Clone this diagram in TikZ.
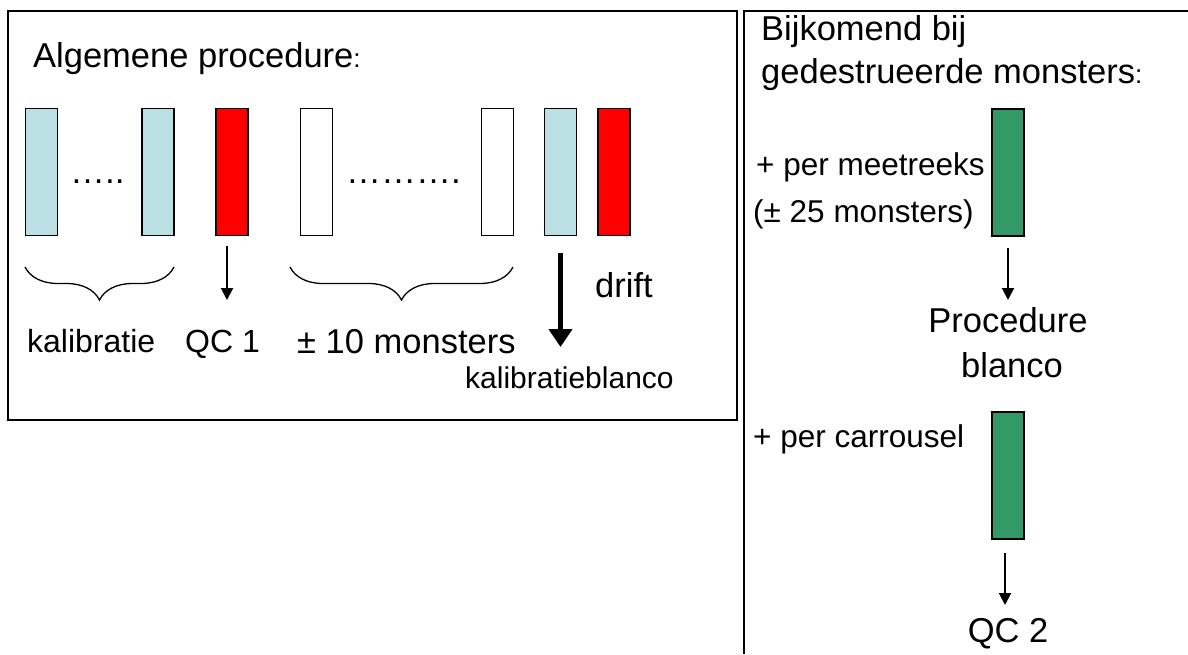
\documentclass[tikz,border=0pt]{standalone}
\usepackage{fontspec}
\setmainfont{Liberation Sans}
\usetikzlibrary{arrows.meta,decorations.pathreplacing}
\definecolor{lb}{RGB}{187,224,227}
\definecolor{rd}{RGB}{255,0,0}
\definecolor{gr}{RGB}{51,153,102}
\begin{document}
\begin{tikzpicture}[x=1pt,y=-1pt,
  tube/.style={draw, line width=1.3pt, minimum width=32pt, minimum height=127pt, inner sep=0pt},
  lbl/.style={inner sep=0pt, font=\fontsize{32}{36}\selectfont},
  mid/.style={inner sep=0pt, font=\fontsize{31.5}{36}\selectfont},
  small/.style={inner sep=0pt, font=\fontsize{30}{34}\selectfont},
  head/.style={inner sep=0pt, font=\fontsize{34.5}{40}\selectfont},
  dots/.style={inner sep=0pt, font=\fontsize{35}{40}\selectfont},
  arr/.style={line width=2pt, -{Triangle[width=12pt,length=12pt]}},
  bigarr/.style={line width=4.5pt, -{Triangle[width=23pt,length=18pt]}},
  brc/.style={line width=1.3pt, decorate, decoration={brace, amplitude=33pt, mirror}},
  frame/.style={line width=2pt}]
\useasboundingbox (0,0) rectangle (1188,654);
\fill[white] (0,0) rectangle (1188,654);
% frames
\draw[frame] (8,11) rectangle (737,420);
\draw[line width=1.6pt] (1188,11) -- (744,11) -- (744,654);
% left panel
\node[head, anchor=base west] (t1) at (33,67) {Algemene procedure{\fontsize{26}{30}\selectfont:}};
\node[tube, fill=lb] (c1) at (41.5,172) {};
\node[tube, fill=lb] (c2) at (158,172) {};
\node[tube, fill=rd] (r1) at (232,172) {};
\node[tube, fill=white] (w1) at (316.5,172) {};
\node[tube, fill=white] (w2) at (497.5,172) {};
\node[tube, fill=lb] (c3) at (560.5,172) {};
\node[tube, fill=rd] (r2) at (614,172) {};
\node[dots, anchor=base west] (d1) at (70,183) {…..};
\node[dots, anchor=base west] (d2) at (346,183) {……….};
\draw[brc] (25,267) -- (174,267);
\draw[brc] (290,267) -- (513,267);
\coordinate (qb) at (227,300);
\draw[arr, shorten <=10pt] (r1.south -| qb) -- (qb);
\coordinate (db) at (560.5,347);
\draw[bigarr, shorten <=17pt] (c3.south) -- (db);
\node[lbl, anchor=base west] (k1) at (27,352) {kalibratie};
\node[lbl, anchor=base west] (q1) at (185,352) {QC 1};
\node[head, anchor=base west] (m1) at (297,353) {± 10 monsters};
\node[head, anchor=base west] (dr) at (595,297) {drift};
\node[small, anchor=base west] (kb) at (465,388) {kalibratieblanco};
% right panel
\node[head, anchor=base west] (t2) at (761,40) {Bijkomend bij};
\node[head, anchor=base west] (t3) at (761,83) {gedestrueerde monsters{\fontsize{26}{30}\selectfont:}};
\node[mid, anchor=base west] (p1) at (756,175) {+ per meetreeks};
\node[mid, anchor=base west] (p2) at (753,222) {(± 25 monsters)};
\node[tube, fill=gr] (g1) at (1008,172.5) {};
\coordinate (gb1) at (1008,300);
\draw[arr, shorten <=11pt] (g1.south) -- (gb1);
\node[head, anchor=base] (pr) at (1008,332) {Procedure};
\node[head, anchor=base] (bl) at (1012,377) {blanco};
\node[mid, anchor=base west] (p3) at (753,447) {+ per carrousel};
\node[tube, fill=gr] (g2) at (1008,475.5) {};
\coordinate (gb2) at (1005,605);
\draw[arr, shorten <=13pt] (g2.south -| gb2) -- (gb2);
\node[head, anchor=base] (q2) at (1008,642) {QC 2};
\end{tikzpicture}
\end{document}
